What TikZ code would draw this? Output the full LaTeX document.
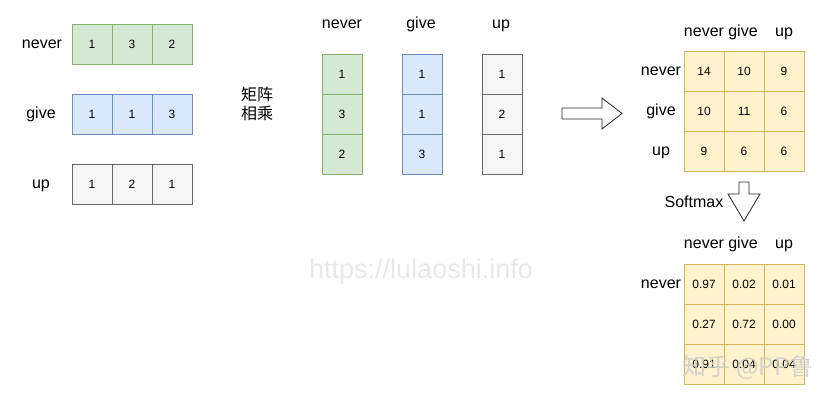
\documentclass[tikz,border=0pt]{standalone}
\usepackage{fontspec}
\setmainfont{Liberation Sans}
\newfontfamily\cjk{Noto Sans CJK SC}
\definecolor{grnfill}{HTML}{D5E8D4}\definecolor{grnline}{HTML}{82B366}
\definecolor{blufill}{HTML}{DAE8FC}\definecolor{bluline}{HTML}{6C8EBF}
\definecolor{gryfill}{HTML}{F5F5F5}\definecolor{gryline}{HTML}{666666}
\definecolor{ylwfill}{HTML}{FFF2CC}\definecolor{ylwline}{HTML}{D6B656}
\begin{document}
\begin{tikzpicture}[x=1pt, y=-1pt,
  cell/.style 2 args={draw=#2, fill=#1, line width=0.8pt, minimum size=40pt,
              inner sep=0pt, font=\fontsize{12}{14}\selectfont},
  lbl/.style={font=\fontsize{16}{19}\selectfont, inner sep=0pt, align=center,
              text height=11.5pt, text depth=3.5pt},
  bigarr/.style={draw=black!85, fill=white, line width=0.8pt}
]
  \useasboundingbox (0,0) rectangle (828,402);
  % word vectors
  \node[lbl] (lnever) at (42,44)  {never};
  \node[lbl] (lgive)  at (41,114) {give};
  \node[lbl] (lup)    at (41,184) {up};
  \foreach \v [count=\i] in {1,3,2}
    \node[cell={grnfill}{grnline}] (rn\i) at (52+40*\i,44) {\v};
  \foreach \v [count=\i] in {1,1,3}
    \node[cell={blufill}{bluline}] (rg\i) at (52+40*\i,114) {\v};
  \foreach \v [count=\i] in {1,2,1}
    \node[cell={gryfill}{gryline}] (ru\i) at (52+40*\i,184) {\v};
  \node[font=\cjk\fontsize{16}{19}\selectfont, inner sep=0pt, align=center]
    (matmul) at (257,104) {矩阵\\相乘};
  % transposed vectors
  \node[lbl] (cnever) at (342,24) {never};
  \node[lbl] (cgive)  at (421,24) {give};
  \node[lbl] (cup)    at (501,24) {up};
  \foreach \v [count=\i] in {1,3,2}
    \node[cell={grnfill}{grnline}] (cn\i) at (342,34+40*\i) {\v};
  \foreach \v [count=\i] in {1,1,3}
    \node[cell={blufill}{bluline}] (cg\i) at (422,34+40*\i) {\v};
  \foreach \v [count=\i] in {1,2,1}
    \node[cell={gryfill}{gryline}] (cu\i) at (502,34+40*\i) {\v};
  \draw[bigarr] (562,108) -- (602,108) -- (602,98) -- (622,113.5)
    -- (602,129) -- (602,119) -- (562,119) -- cycle;
  % scores
  \node[lbl] (snever) at (704,32) {never};
  \node[lbl] (sgive)  at (743,32) {give};
  \node[lbl] (sup)    at (784,32) {up};
  \node[lbl] (srn) at (661,71)  {never};
  \node[lbl] (srg) at (661,111) {give};
  \node[lbl] (sru) at (661,151) {up};
  \foreach \row [count=\r] in {{14,10,9},{10,11,6},{9,6,6}}
    \foreach \v [count=\c] in \row
      \node[cell={ylwfill}{ylwline}] (s\r\c) at (664+40*\c,31+40*\r) {\v};
  \node[lbl] (smax) at (694,203) {Softmax};
  \draw[bigarr] (739,182) -- (749,182) -- (749,194) -- (760,194)
    -- (744,221) -- (728,194) -- (739,194) -- cycle;
  % probabilities
  \node[lbl] (pnever) at (704,244) {never};
  \node[lbl] (pgive)  at (743,244) {give};
  \node[lbl] (pup)    at (784,244) {up};
  \node[lbl] (prn) at (661,284) {never};
  \foreach \row [count=\r] in {{0.97,0.02,0.01},{0.27,0.72,0.00},{0.91,0.04,0.04}}
    \foreach \v [count=\c] in \row
      \node[cell={ylwfill}{ylwline}] (p\r\c) at (664+40*\c,244+40*\r) {\v};
  % watermarks
  \node[font=\fontsize{27}{30}\selectfont, text=gray!18] (wm1) at (421,272) {https://lulaoshi.info};
  \node[font=\cjk\fontsize{24}{28}\selectfont, text=gray!40, text opacity=0.85] (wm2) at (748,367) {知乎 @PP鲁};
\end{tikzpicture}
\end{document}
